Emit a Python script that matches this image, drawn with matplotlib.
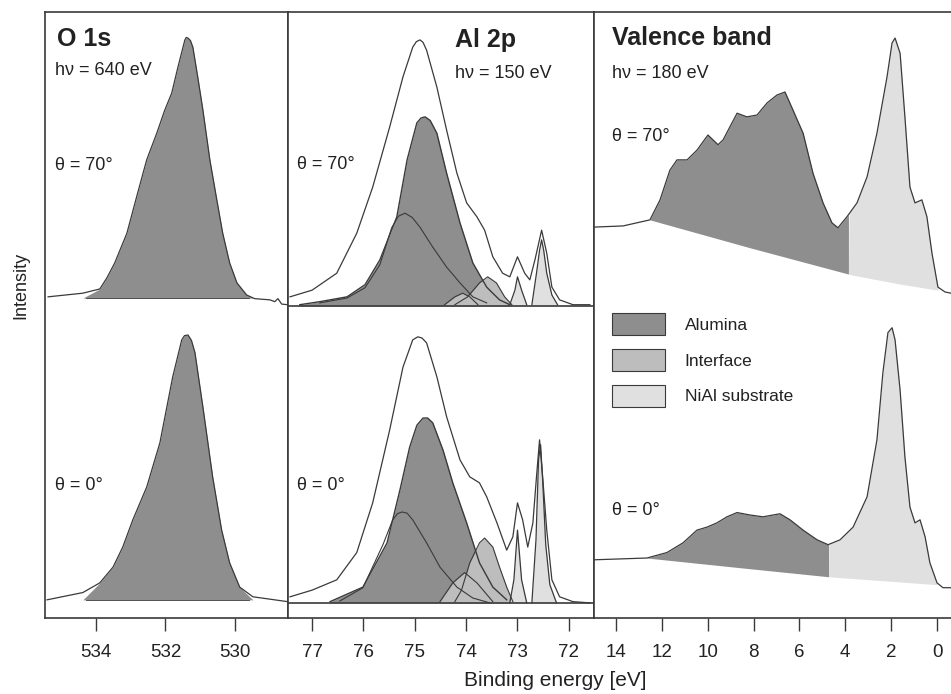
import numpy as np
import matplotlib.pyplot as plt
from matplotlib.patches import Patch

plt.rcParams['font.family'] = ['Liberation Sans', 'DejaVu Sans']

# vertical offsets of the two spectra (a.u.)
off_70 = 51.5
off_0 = 2.5

# ---------------- O 1s ----------------
o1s_E70 = [535.38, 534.38, 533.89, 533.69, 533.46, 533.11, 532.83, 532.54, 532.25, 532.02,
           531.82, 531.64, 531.44, 531.40, 531.35, 531.28, 531.21, 531.07, 530.92, 530.72,
           530.52, 530.35, 530.15, 529.94, 529.66, 529.43, 528.99, 528.85, 528.76, 528.65,
           528.48]
o1s_I70 = [1.5, 2.1, 2.8, 4.6, 7.1, 12.0, 18.0, 24.1, 28.5, 32.3,
           35.1, 39.4, 43.9, 44.3, 44.2, 43.8, 42.7, 37.8, 32.3, 24.1,
           17.5, 12.0, 7.1, 3.8, 1.8, 1.2, 1.0, 0.7, 1.2, 0.3,
           0.2]
o1s_E0 = [535.41, 534.38, 533.89, 533.51, 533.23, 532.94, 532.54, 532.16, 531.79, 531.53,
          531.45, 531.35, 531.25, 531.15, 530.92, 530.64, 530.38, 530.15, 529.86, 529.48,
          528.48]
o1s_I0 = [0.5, 1.7, 3.3, 5.9, 9.2, 13.7, 19.1, 26.4, 37.3, 43.4,
          44.1, 44.2, 43.3, 41.3, 32.3, 20.8, 12.0, 6.6, 2.6, 1.0,
          0.2]

# ---------------- Al 2p, theta = 70 ----------------
al_env_E70 = [77.43, 77.0, 76.52, 76.13, 75.82, 75.49, 75.23, 75.04, 74.97, 74.90, 74.84, 74.77,
              74.57, 74.38, 74.18, 73.99, 73.79, 73.64, 73.48, 73.29, 73.15, 73.0, 72.86, 72.76,
              72.66, 72.53, 72.43, 72.33, 72.18, 71.92, 71.59]
al_env_I70 = [1.5, 2.6, 5.4, 12.0, 19.6, 29.5, 37.8, 42.7, 43.6, 43.9, 43.5, 42.2,
              36.1, 29.0, 21.9, 17.0, 14.7, 12.5, 8.1, 5.4, 4.8, 8.1, 5.4, 4.3,
              7.6, 12.5, 8.7, 3.1, 1.0, 0.2, 0.2]
al_ox_E70 = [77.24, 76.85, 76.32, 75.97, 75.68, 75.35, 75.15, 74.96, 74.88, 74.80, 74.70, 74.57,
             74.38, 74.12, 73.87, 73.60, 73.35, 73.15]
al_ox_I70 = [0.2, 0.7, 1.5, 3.5, 7.6, 14.7, 24.1, 30.2, 31.0, 31.2, 30.6, 28.5,
             21.9, 13.7, 7.1, 3.1, 1.0, 0.2]
al_oxA_E70 = [76.85, 76.32, 75.97, 75.68, 75.45, 75.32, 75.19, 75.05, 74.90, 74.65, 74.38, 74.12,
              73.87, 73.60]
al_oxA_I70 = [0.5, 1.3, 3.0, 6.8, 12.9, 14.8, 15.3, 14.6, 13.0, 9.7, 6.4, 3.8,
              1.5, 0.5]
al_if1_E70 = [74.22, 73.97, 73.74, 73.58, 73.41, 73.25, 73.11]
al_if1_I70 = [0.2, 1.5, 3.8, 4.8, 3.8, 1.5, 0.2]
al_if2_E70 = [74.42, 74.22, 74.07, 73.93, 73.77]
al_if2_I70 = [0.2, 1.5, 2.1, 1.5, 0.2]
al_sub1_E70 = [73.15, 73.05, 73.0, 72.92, 72.82]
al_sub1_I70 = [0.2, 2.6, 4.8, 2.6, 0.2]
al_sub2_E70 = [72.72, 72.63, 72.57, 72.53, 72.49, 72.43, 72.33, 72.22]
al_sub2_I70 = [0.2, 5.4, 9.2, 10.9, 9.2, 5.4, 1.8, 0.2]

# ---------------- Al 2p, theta = 0 ----------------
al_env_E0 = [77.43, 77.0, 76.52, 76.13, 75.82, 75.49, 75.23, 75.04, 74.94, 74.86, 74.77, 74.57,
             74.38, 74.12, 73.93, 73.74, 73.60, 73.40, 73.21, 73.09, 73.0, 72.90, 72.80, 72.70,
             72.63, 72.57, 72.51, 72.43, 72.33, 72.18, 71.92, 71.59]
al_env_I0 = [1.0, 2.1, 3.8, 8.3, 16.5, 28.5, 38.9, 43.4, 43.9, 43.7, 42.9, 37.3,
             30.7, 23.6, 20.8, 19.8, 17.5, 13.2, 8.7, 10.9, 16.5, 13.7, 9.2, 13.2,
             20.8, 26.9, 20.8, 12.0, 3.8, 1.0, 0.2, 0.0]
al_ox_E0 = [76.65, 76.01, 75.54, 75.29, 75.10, 74.96, 74.84, 74.75, 74.65, 74.45, 74.26, 73.99,
            73.74, 73.48, 73.21]
al_ox_I0 = [0.2, 2.6, 9.9, 18.6, 25.7, 29.3, 30.5, 30.5, 29.7, 25.2, 19.8, 13.2,
            6.6, 2.6, 0.5]
al_oxA_E0 = [76.46, 76.01, 75.62, 75.43, 75.34, 75.25, 75.15, 75.04, 74.77, 74.51, 74.18, 73.87,
             73.54]
al_oxA_I0 = [0.3, 2.5, 9.6, 13.7, 14.7, 15.0, 14.8, 13.7, 9.9, 5.9, 2.6, 0.8,
             0.0]
al_if1_E0 = [74.22, 74.09, 73.93, 73.74, 73.64, 73.48, 73.35, 73.21, 73.09]
al_if1_I0 = [0.2, 2.1, 6.6, 9.9, 10.7, 9.2, 5.9, 2.6, 0.2]
al_if2_E0 = [74.51, 74.26, 74.03, 73.79, 73.48]
al_if2_I0 = [0.2, 3.3, 5.0, 3.3, 0.2]
al_sub1_E0 = [73.15, 73.07, 73.0, 72.92, 72.82]
al_sub1_I0 = [0.0, 3.8, 12.0, 3.8, 0.0]
al_sub2_E0 = [72.72, 72.64, 72.59, 72.55, 72.51, 72.45, 72.37, 72.24]
al_sub2_I0 = [0.0, 10.4, 23.6, 26.1, 20.3, 9.6, 3.0, 0.0]

# ---------------- Valence band ----------------
vb_E70 = [15.0, 13.69, 12.52, 12.08, 11.65, 11.34, 10.90, 10.47, 9.99, 9.55, 9.33, 8.72, 8.29,
          7.85, 7.41, 6.98, 6.63, 6.28, 5.84, 5.41, 4.97, 4.58, 4.32, 3.93, 3.49, 3.05, 2.62,
          2.18, 1.96, 1.83, 1.61, 1.40, 1.18, 0.96, 0.66, 0.44, 0.22, -0.04, -0.35, -0.61]
vb_I70 = [13.0, 13.2, 14.2, 17.5, 22.4, 24.1, 24.1, 25.7, 28.2, 26.6, 27.4, 31.8, 31.2,
          31.5, 33.5, 34.8, 35.3, 32.3, 28.5, 21.9, 17.0, 13.7, 12.9, 14.7, 17.0, 21.3, 28.5,
          37.8, 43.4, 44.2, 41.7, 31.2, 19.6, 17.0, 17.5, 14.7, 8.7, 3.1, 2.3, 2.1]
vb_bgE70 = [12.52, 8.16, 3.71, 1.61, -0.04]
vb_bgI70 = [14.2, 9.6, 5.1, 3.6, 2.6]
vb_E0 = [15.0, 12.65, 11.78, 11.08, 10.47, 10.03, 9.60, 9.16, 8.72, 8.16, 7.59, 6.85, 6.41,
         5.84, 5.23, 4.75, 4.23, 3.66, 3.05, 2.62, 2.36, 2.14, 1.96, 1.83, 1.61, 1.40, 1.18,
         0.96, 0.74, 0.52, 0.31, 0.0, -0.26, -0.61]
vb_I0 = [7.1, 7.4, 8.3, 9.9, 12.0, 12.5, 13.2, 14.2, 14.9, 14.5, 14.2, 14.7, 13.7,
         12.0, 10.4, 9.6, 10.4, 12.5, 17.5, 26.9, 38.0, 44.6, 45.4, 43.4, 35.1, 24.1, 15.8,
         13.2, 13.7, 10.9, 6.6, 3.3, 2.5, 2.5]
vb_bgE0 = [12.65, 8.59, 4.71, 0.0]
vb_bgI0 = [7.4, 5.8, 4.3, 3.0]
vb_split70 = 3.85
vb_split0 = 4.71

c_ox = '#8e8e8e'
c_if = '#bdbdbd'
c_sub = '#e0e0e0'
c_line = '#3a3a3a'
c_txt = '#222222'

fig = plt.figure(figsize=(9.51, 6.94), dpi=100)
bot, hgt = 0.1095, 0.8732
ax1 = fig.add_axes([0.0473, bot, 0.2555, hgt])
ax2 = fig.add_axes([0.3028, bot, 0.3218, hgt])
ax3 = fig.add_axes([0.6246, bot, 0.3754, hgt])

for ax in (ax1, ax2, ax3):
    ax.set_ylim(0, 100)
    ax.set_yticks([])
    ax.tick_params(axis='x', direction='out', length=9, width=1, labelsize=13.5,
                   color=c_line, labelcolor=c_txt, pad=10)
    for s in ax.spines.values():
        s.set_linewidth(1.2)
        s.set_color(c_line)
ax3.spines['right'].set_visible(False)

# O 1s
ax1.set_xlim(535.47, 528.47)
ax1.set_xticks([534, 532, 530])
for E, I, off, base in [(o1s_E70, o1s_I70, off_70, 1.3), (o1s_E0, o1s_I0, off_0, 0.5)]:
    E = np.array(E); I = np.array(I)
    m = (E < 534.3) & (E > 529.6)
    ax1.fill_between(E, off + base, off + I, where=m, color=c_ox, lw=0, interpolate=True)
    ax1.plot(E, off + I, color=c_line, lw=0.9)
    ax1.plot([534.3, 529.6], [off + base, off + base], color=c_line, lw=0.6)

# Al 2p
ax2.set_xlim(77.47, 71.51)
ax2.set_xticks([77, 76, 75, 74, 73, 72])
sets = [
    (off_70, al_env_E70, al_env_I70, al_ox_E70, al_ox_I70, al_oxA_E70, al_oxA_I70,
     [(al_if2_E70, al_if2_I70), (al_if1_E70, al_if1_I70)],
     [(al_sub1_E70, al_sub1_I70), (al_sub2_E70, al_sub2_I70)]),
    (off_0, al_env_E0, al_env_I0, al_ox_E0, al_ox_I0, al_oxA_E0, al_oxA_I0,
     [(al_if2_E0, al_if2_I0), (al_if1_E0, al_if1_I0)],
     [(al_sub1_E0, al_sub1_I0), (al_sub2_E0, al_sub2_I0)]),
]
for off, envE, envI, oxE, oxI, aE, aI, ifs, subs in sets:
    oxI = np.array(oxI)
    ax2.fill_between(oxE, off, off + oxI, color=c_ox, lw=0)
    ax2.plot(oxE, off + oxI, color=c_line, lw=1.0)
    ax2.plot(aE, off + np.array(aI), color=c_line, lw=0.8)
    for e, i in ifs:
        i = np.array(i)
        ax2.fill_between(e, off, off + i, color=c_if, lw=0)
        ax2.plot(e, off + i, color=c_line, lw=0.8)
    for e, i in subs:
        i = np.array(i)
        ax2.fill_between(e, off, off + i, color=c_sub, lw=0)
        ax2.plot(e, off + i, color=c_line, lw=0.9)
    ax2.plot(envE, off + np.array(envI), color=c_line, lw=0.9)
    ax2.axhline(off, color=c_line, lw=1.2)

# Valence band
ax3.set_xlim(14.96, -0.61)
ax3.set_xticks([14, 12, 10, 8, 6, 4, 2, 0])
for E, I, bE, bI, off, split in [(vb_E70, vb_I70, vb_bgE70, vb_bgI70, off_70, vb_split70),
                                 (vb_E0, vb_I0, vb_bgE0, vb_bgI0, off_0, vb_split0)]:
    E = np.array(E); I = np.array(I)
    Ef = np.linspace(bE[0], bE[-1], 400)
    top = np.interp(Ef[::-1], E[::-1], I[::-1])[::-1]
    bg = np.interp(Ef[::-1], np.array(bE)[::-1], np.array(bI)[::-1])[::-1]
    ax3.fill_between(Ef, off + bg, off + top, where=Ef >= split, color=c_ox, lw=0, interpolate=True)
    ax3.fill_between(Ef, off + bg, off + top, where=Ef <= split, color=c_sub, lw=0, interpolate=True)
    ax3.plot(E, off + I, color=c_line, lw=0.9)

# labels
def lab(ax, x, y, s, **kw):
    ax.text(x, y, s, transform=ax.transAxes, ha='left', va='center', color=c_txt, **kw)

lab(ax1, 0.049, 0.955, 'O 1s', fontsize=18, fontweight='bold')
lab(ax1, 0.041, 0.904, 'hν = 640 eV', fontsize=13)
lab(ax1, 0.041, 0.746, 'θ = 70°', fontsize=13)
lab(ax1, 0.041, 0.219, 'θ = 0°', fontsize=13)
lab(ax2, 0.546, 0.954, 'Al 2p', fontsize=18, fontweight='bold')
lab(ax2, 0.546, 0.898, 'hν = 150 eV', fontsize=13)
lab(ax2, 0.029, 0.748, 'θ = 70°', fontsize=13)
lab(ax2, 0.029, 0.219, 'θ = 0°', fontsize=13)
lab(ax3, 0.050, 0.957, 'Valence band', fontsize=18, fontweight='bold')
lab(ax3, 0.050, 0.898, 'hν = 180 eV', fontsize=13)
lab(ax3, 0.050, 0.795, 'θ = 70°', fontsize=13)
lab(ax3, 0.050, 0.177, 'θ = 0°', fontsize=13)

handles = [Patch(facecolor=c_ox, edgecolor=c_line, lw=0.8, label='Alumina'),
           Patch(facecolor=c_if, edgecolor=c_line, lw=0.8, label='Interface'),
           Patch(facecolor=c_sub, edgecolor=c_line, lw=0.8, label='NiAl substrate')]
ax3.legend(handles=handles, loc='upper left', bbox_to_anchor=(0.050, 0.503), frameon=False,
           fontsize=12.5, handlelength=3.05, handleheight=1.55, labelspacing=0.81,
           handletextpad=1.15, borderpad=0, borderaxespad=0, labelcolor=c_txt)

fig.text(0.022, 0.589, 'Intensity', rotation=90, ha='center', va='center', fontsize=13, color=c_txt)
fig.text(0.584, 0.019, 'Binding energy [eV]', ha='center', va='center', fontsize=15, color=c_txt)

fig.savefig('out.png', dpi=100)
